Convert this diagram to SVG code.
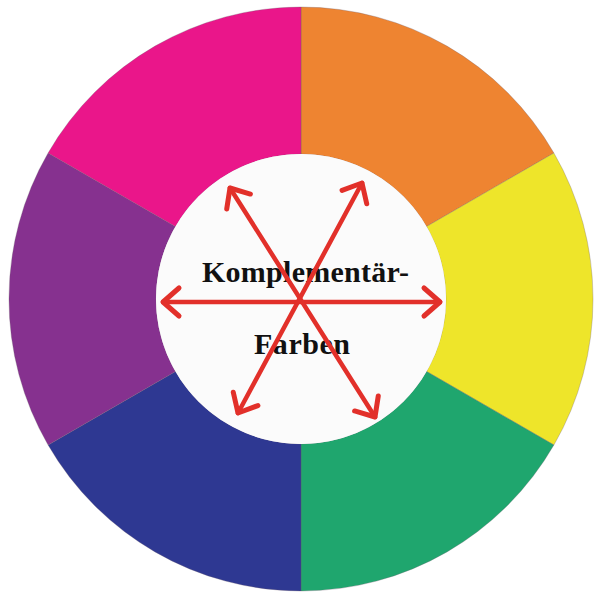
<svg xmlns="http://www.w3.org/2000/svg" width="597" height="602" viewBox="0 0 597 602">
<defs>
<style>
.seg{stroke:#6a5a6a;stroke-width:0.6;stroke-opacity:0.5}
.arrow{stroke:#e2302a;stroke-width:4.5;fill:none;stroke-linecap:round;marker-start:url(#head);marker-end:url(#head)}
.lbl{font-family:"Liberation Serif","Times New Roman",serif;font-weight:bold;font-size:30px;fill:#111}
</style>
<marker id="head" markerUnits="userSpaceOnUse" markerWidth="40" markerHeight="40" refX="0" refY="0" viewBox="-20 -20 40 40" orient="auto-start-reverse" overflow="visible">
<path d="M-16,-14 L0,0 L-16,14" fill="none" stroke="#e2302a" stroke-width="5" stroke-linecap="round" stroke-linejoin="round"/>
</marker>
</defs>
<rect width="597" height="602" fill="#ffffff"/>
<g id="orange"><path class="seg" fill="#ee8431" d="M301,7 A292,292 0 0 1 553.9,153 L426.6,226.5 A145,145 0 0 0 301,154 Z"/></g>
<g id="yellow"><path class="seg" fill="#eee52a" d="M553.9,153 A292,292 0 0 1 553.9,445 L426.6,371.5 A145,145 0 0 0 426.6,226.5 Z"/></g>
<g id="green"><path class="seg" fill="#1fa66e" d="M553.9,445 A292,292 0 0 1 301,591 L301,444 A145,145 0 0 0 426.6,371.5 Z"/></g>
<g id="blue"><path class="seg" fill="#2e3892" d="M301,591 A292,292 0 0 1 48.1,445 L175.4,371.5 A145,145 0 0 0 301,444 Z"/></g>
<g id="purple"><path class="seg" fill="#86318f" d="M48.1,445 A292,292 0 0 1 48.1,153 L175.4,226.5 A145,145 0 0 0 175.4,371.5 Z"/></g>
<g id="magenta"><path class="seg" fill="#ea168a" d="M48.1,153 A292,292 0 0 1 301,7 L301,154 A145,145 0 0 0 175.4,226.5 Z"/></g>
<g id="center">
<circle cx="301" cy="299" r="145" fill="#fbfbfb"/>
<text class="lbl" x="202" y="282" textLength="207" lengthAdjust="spacing">Komplementär-</text>
<text class="lbl" x="254" y="354" textLength="96" lengthAdjust="spacing">Farben</text>
</g>
<g id="connectors">
<line class="arrow" x1="163" y1="302" x2="440" y2="302"/>
<line class="arrow" x1="230" y1="188" x2="375" y2="417"/>
<line class="arrow" x1="362" y1="183" x2="238" y2="413"/>
</g>
</svg>
